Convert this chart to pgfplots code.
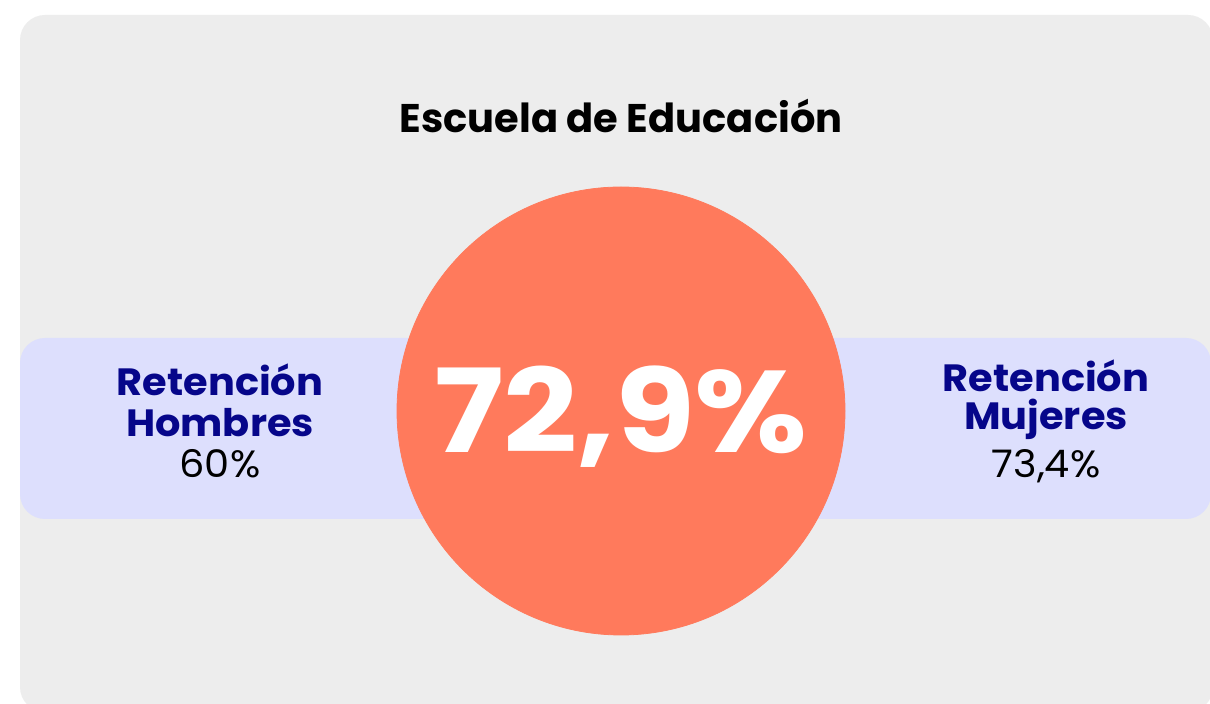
\documentclass[border=0pt]{standalone}
\usepackage{pgfplots}
\pgfplotsset{compat=1.18}
\usepackage{fontspec}
\setmainfont{Poppins}
\definecolor{panelgray}{HTML}{EDEDED}
\definecolor{bandblue}{HTML}{DDDFFD}
\definecolor{coral}{HTML}{FF7A5C}
\definecolor{navy}{HTML}{06068A}
\newcommand{\wide}[1]{\scalebox{1.05}[1]{#1}}
\begin{document}
\begin{tikzpicture}
\begin{axis}[width=605pt,height=352pt,scale only axis,
  xmin=0,xmax=1210,ymin=0,ymax=704,y dir=reverse,
  hide axis,clip=true]
\addplot[fill=white,draw=none] coordinates {(0,0)(1210,0)(1210,704)(0,704)} -- cycle;
\addplot[fill=panelgray,draw=none,rounded corners=12.5pt] coordinates {(20,15)(1213,15)(1213,712)(20,712)} -- cycle;
\addplot[fill=bandblue,draw=none,rounded corners=12.5pt] coordinates {(20,338)(1211,338)(1211,519)(20,519)} -- cycle;
\addplot[color=coral,only marks,mark=*,mark size=112pt,
  mark options={fill=coral,draw=coral},
  point meta=explicit symbolic,
  nodes near coords={\scalebox{1.12}[1]{\pgfplotspointmeta}},
  every node near coord/.append style={text=white,anchor=base,yshift=-21pt,xshift=0pt,
    font=\fontsize{58}{62}\selectfont\bfseries}]
  coordinates {(621,411) [72,9\%]};
\node[anchor=base,font=\fontsize{20}{24}\selectfont\bfseries] at (axis cs:621,133) {Escuela de Educación};
\node[anchor=base,text=navy,font=\fontsize{19}{22}\selectfont\bfseries] at (axis cs:220,396) {\wide{Retención}};
\node[anchor=base,text=navy,font=\fontsize{19}{22}\selectfont\bfseries] at (axis cs:220,437) {\wide{Hombres}};
\node[anchor=base,font=\fontsize{19}{22}\selectfont] at (axis cs:220,478) {\wide{60\%}};
\node[anchor=base,text=navy,font=\fontsize{19}{22}\selectfont\bfseries] at (axis cs:1046,392) {\wide{Retención}};
\node[anchor=base,text=navy,font=\fontsize{19}{22}\selectfont\bfseries] at (axis cs:1046,430) {\wide{Mujeres}};
\node[anchor=base,font=\fontsize{19}{22}\selectfont] at (axis cs:1046,478) {\wide{73,4\%}};
\end{axis}
\end{tikzpicture}
\end{document}
